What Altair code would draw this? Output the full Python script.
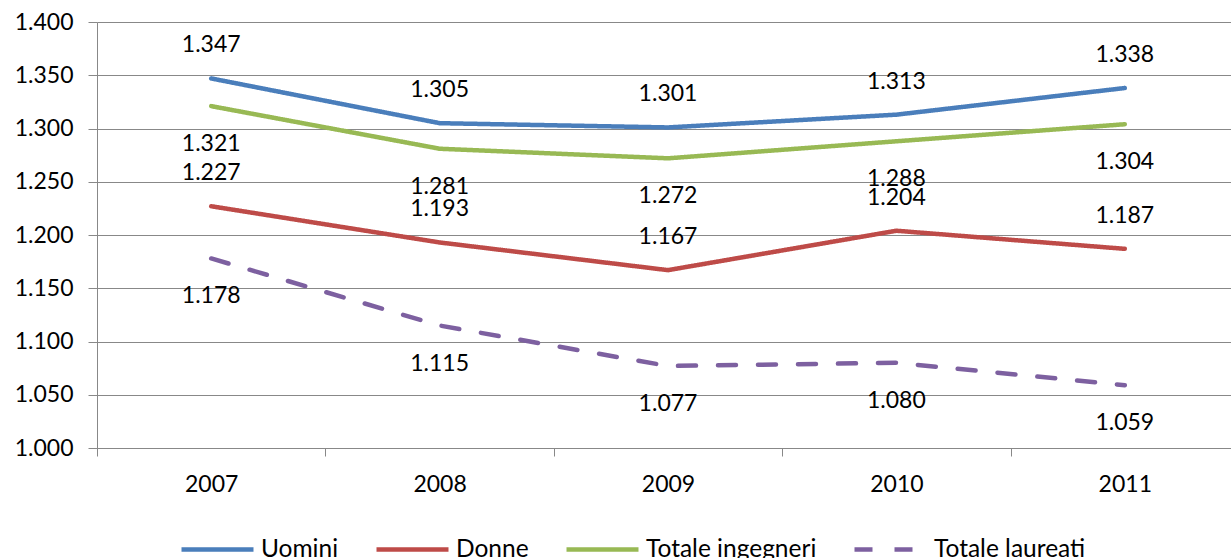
import altair as alt
import pandas as pd

years = ["2007", "2008", "2009", "2010", "2011"]
series = ["Uomini", "Donne", "Totale ingegneri", "Totale laureati"]
uomini = [1347, 1305, 1301, 1313, 1338]
donne = [1227, 1193, 1167, 1204, 1187]
ingegneri = [1321, 1281, 1272, 1288, 1304]
laureati = [1178, 1115, 1077, 1080, 1059]
y_ticks = [1000, 1050, 1100, 1150, 1200, 1250, 1300, 1350, 1400]

colors = ["#4A7EBB", "#BE4B48", "#98B954", "#7D60A0"]
dashes = [[1, 0], [1, 0], [1, 0], [18, 22]]

rows = []
for name, vals in zip(series, [uomini, donne, ingegneri, laureati]):
    for yr, v in zip(years, vals):
        rows.append({"anno": yr, "serie": name, "valore": v})
df = pd.DataFrame(rows)

FONT = "Lato"
FS = 23
fmt = "replace(format(datum.value, ','), ',', '.')"

x = alt.X("anno:N", title=None, scale=alt.Scale(range=[0, 1142], paddingInner=0, paddingOuter=0),
          axis=alt.Axis(labelAngle=0, tickBand="extent", grid=False, domain=True,
                        domainColor="#888888", tickColor="#888888", tickSize=8,
                        labelPadding=17, labelFontSize=FS, labelFont=FONT, labelColor="#000000"))
y = alt.Y("valore:Q", title=None,
          scale=alt.Scale(domain=[1000, 1400], nice=False, zero=False),
          axis=alt.Axis(values=y_ticks, labelExpr=fmt, grid=True, gridColor="#888888",
                        domainColor="#888888", tickColor="#888888", tickSize=9,
                        labelPadding=15, labelFontSize=FS, labelFont=FONT, labelColor="#000000"))

base = alt.Chart(df)

lines = base.mark_line(strokeWidth=4.5, strokeCap="round").encode(
    x=x, y=y,
    color=alt.Color("serie:N", title=None,
                    scale=alt.Scale(domain=series, range=colors),
                    legend=alt.Legend(orient="none", direction="horizontal",
                                      legendX=82, legendY=489,
                                      symbolType="stroke", symbolSize=5184,
                                      symbolStrokeWidth=4.5, columnPadding=28,
                                      labelFontSize=24.5, labelFont=FONT,
                                      labelColor="#000000", labelOffset=5,
                                      labelLimit=400, columns=4)),
    strokeDash=alt.StrokeDash("serie:N", title=None,
                              scale=alt.Scale(domain=series, range=dashes)),
    order=alt.Order("anno:N"),
)


def labels(names, dy):
    return base.transform_filter(
        alt.FieldOneOfPredicate(field="serie", oneOf=names)
    ).transform_calculate(
        label="replace(format(datum.valore, ','), ',', '.')"
    ).mark_text(dy=dy, fontSize=FS, font=FONT, color="#000000").encode(
        x=alt.X("anno:N"), y=alt.Y("valore:Q"), text="label:N"
    )


above = labels(["Uomini", "Donne"], -33)
below = labels(["Totale ingegneri", "Totale laureati"], 38)

chart = alt.layer(lines, above, below).properties(
    width=1134, height=426,
    autosize=alt.AutoSizeParams(type="none"),
    padding={"left": 97, "top": 22, "right": 0, "bottom": 110},
    background="#ffffff",
).configure_view(stroke=None)

chart.save("out.html", embed_options={"renderer": "svg", "actions": False})
